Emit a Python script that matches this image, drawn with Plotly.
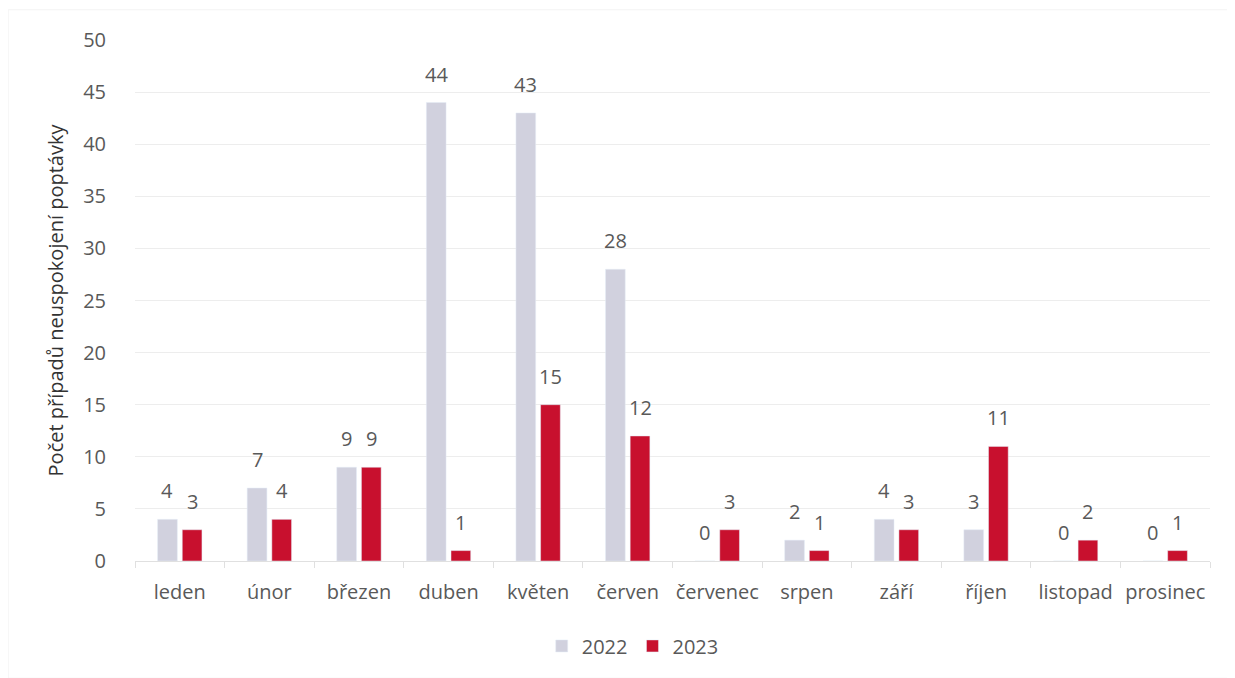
import plotly.graph_objects as go

months = ["leden", "únor", "březen", "duben", "květen", "červen", "červenec",
          "srpen", "září", "říjen", "listopad", "prosinec"]
v2022 = [4, 7, 9, 44, 43, 28, 0, 2, 4, 3, 0, 0]
v2023 = [3, 4, 9, 1, 15, 12, 3, 1, 3, 11, 2, 1]
y_ticks = [0, 5, 10, 15, 20, 25, 30, 35, 40, 45, 50]

FONT = "Open Sans"
TXT = "#595959"
FS = 20
BARGAP = 0.45
GROUPGAP = 0.2

fig = go.Figure()
fig.add_trace(go.Bar(x=months, y=v2022, name="2022", marker_color="#D1D1DE"))
fig.add_trace(go.Bar(x=months, y=v2023, name="2023", marker_color="#C8102E"))

# value labels placed above each bar via the category axis + pixel shift
plot_w = 1235 - 127 - 33
slot_px = plot_w / len(months) * (1 - BARGAP) / 2
annotations = []
for series, sign in ((v2022, -1), (v2023, 1)):
    for m, v in zip(months, series):
        annotations.append(dict(x=m, y=v, xref="x", yref="y", text=str(v),
                                showarrow=False, xanchor="center", yanchor="bottom",
                                xshift=sign * slot_px / 2, yshift=13,
                                font=dict(size=FS, color=TXT, family=FONT)))

fig.update_layout(
    width=1235, height=678,
    paper_bgcolor="white", plot_bgcolor="white",
    margin=dict(l=127, r=33, t=32, b=125),
    barmode="group", bargap=BARGAP, bargroupgap=GROUPGAP,
    font=dict(family=FONT, color=TXT, size=FS),
    showlegend=True,
    legend=dict(orientation="h", x=0.463, xanchor="center", y=-0.163, yanchor="middle",
                font=dict(size=FS, color=TXT), traceorder="normal"),
    xaxis=dict(showgrid=False, showline=True, linecolor="#E0E0E0",
               ticks="outside", tickson="boundaries", ticklen=6, tickcolor="#E0E0E0",
               ticklabelstandoff=13, tickangle=0,
               tickfont=dict(size=FS, color=TXT)),
    yaxis=dict(range=[0, 50], tickvals=y_ticks, showgrid=True, gridcolor="#EDEDED",
               zeroline=False, showline=False, ticks="outside", ticklen=0,
               ticklabelstandoff=24,
               tickfont=dict(size=FS, color=TXT),
               title=dict(text="Počet případů neuspokojení poptávky", standoff=14,
                          font=dict(size=FS, color="#333333"))),
    annotations=annotations,
    shapes=[dict(type="rect", xref="paper", yref="paper", x0=-0.118, x1=1.023,
                 y0=-0.225, y1=1.058, line=dict(color="#F3F3F3", width=1))],
)

fig.write_html("out.html")
